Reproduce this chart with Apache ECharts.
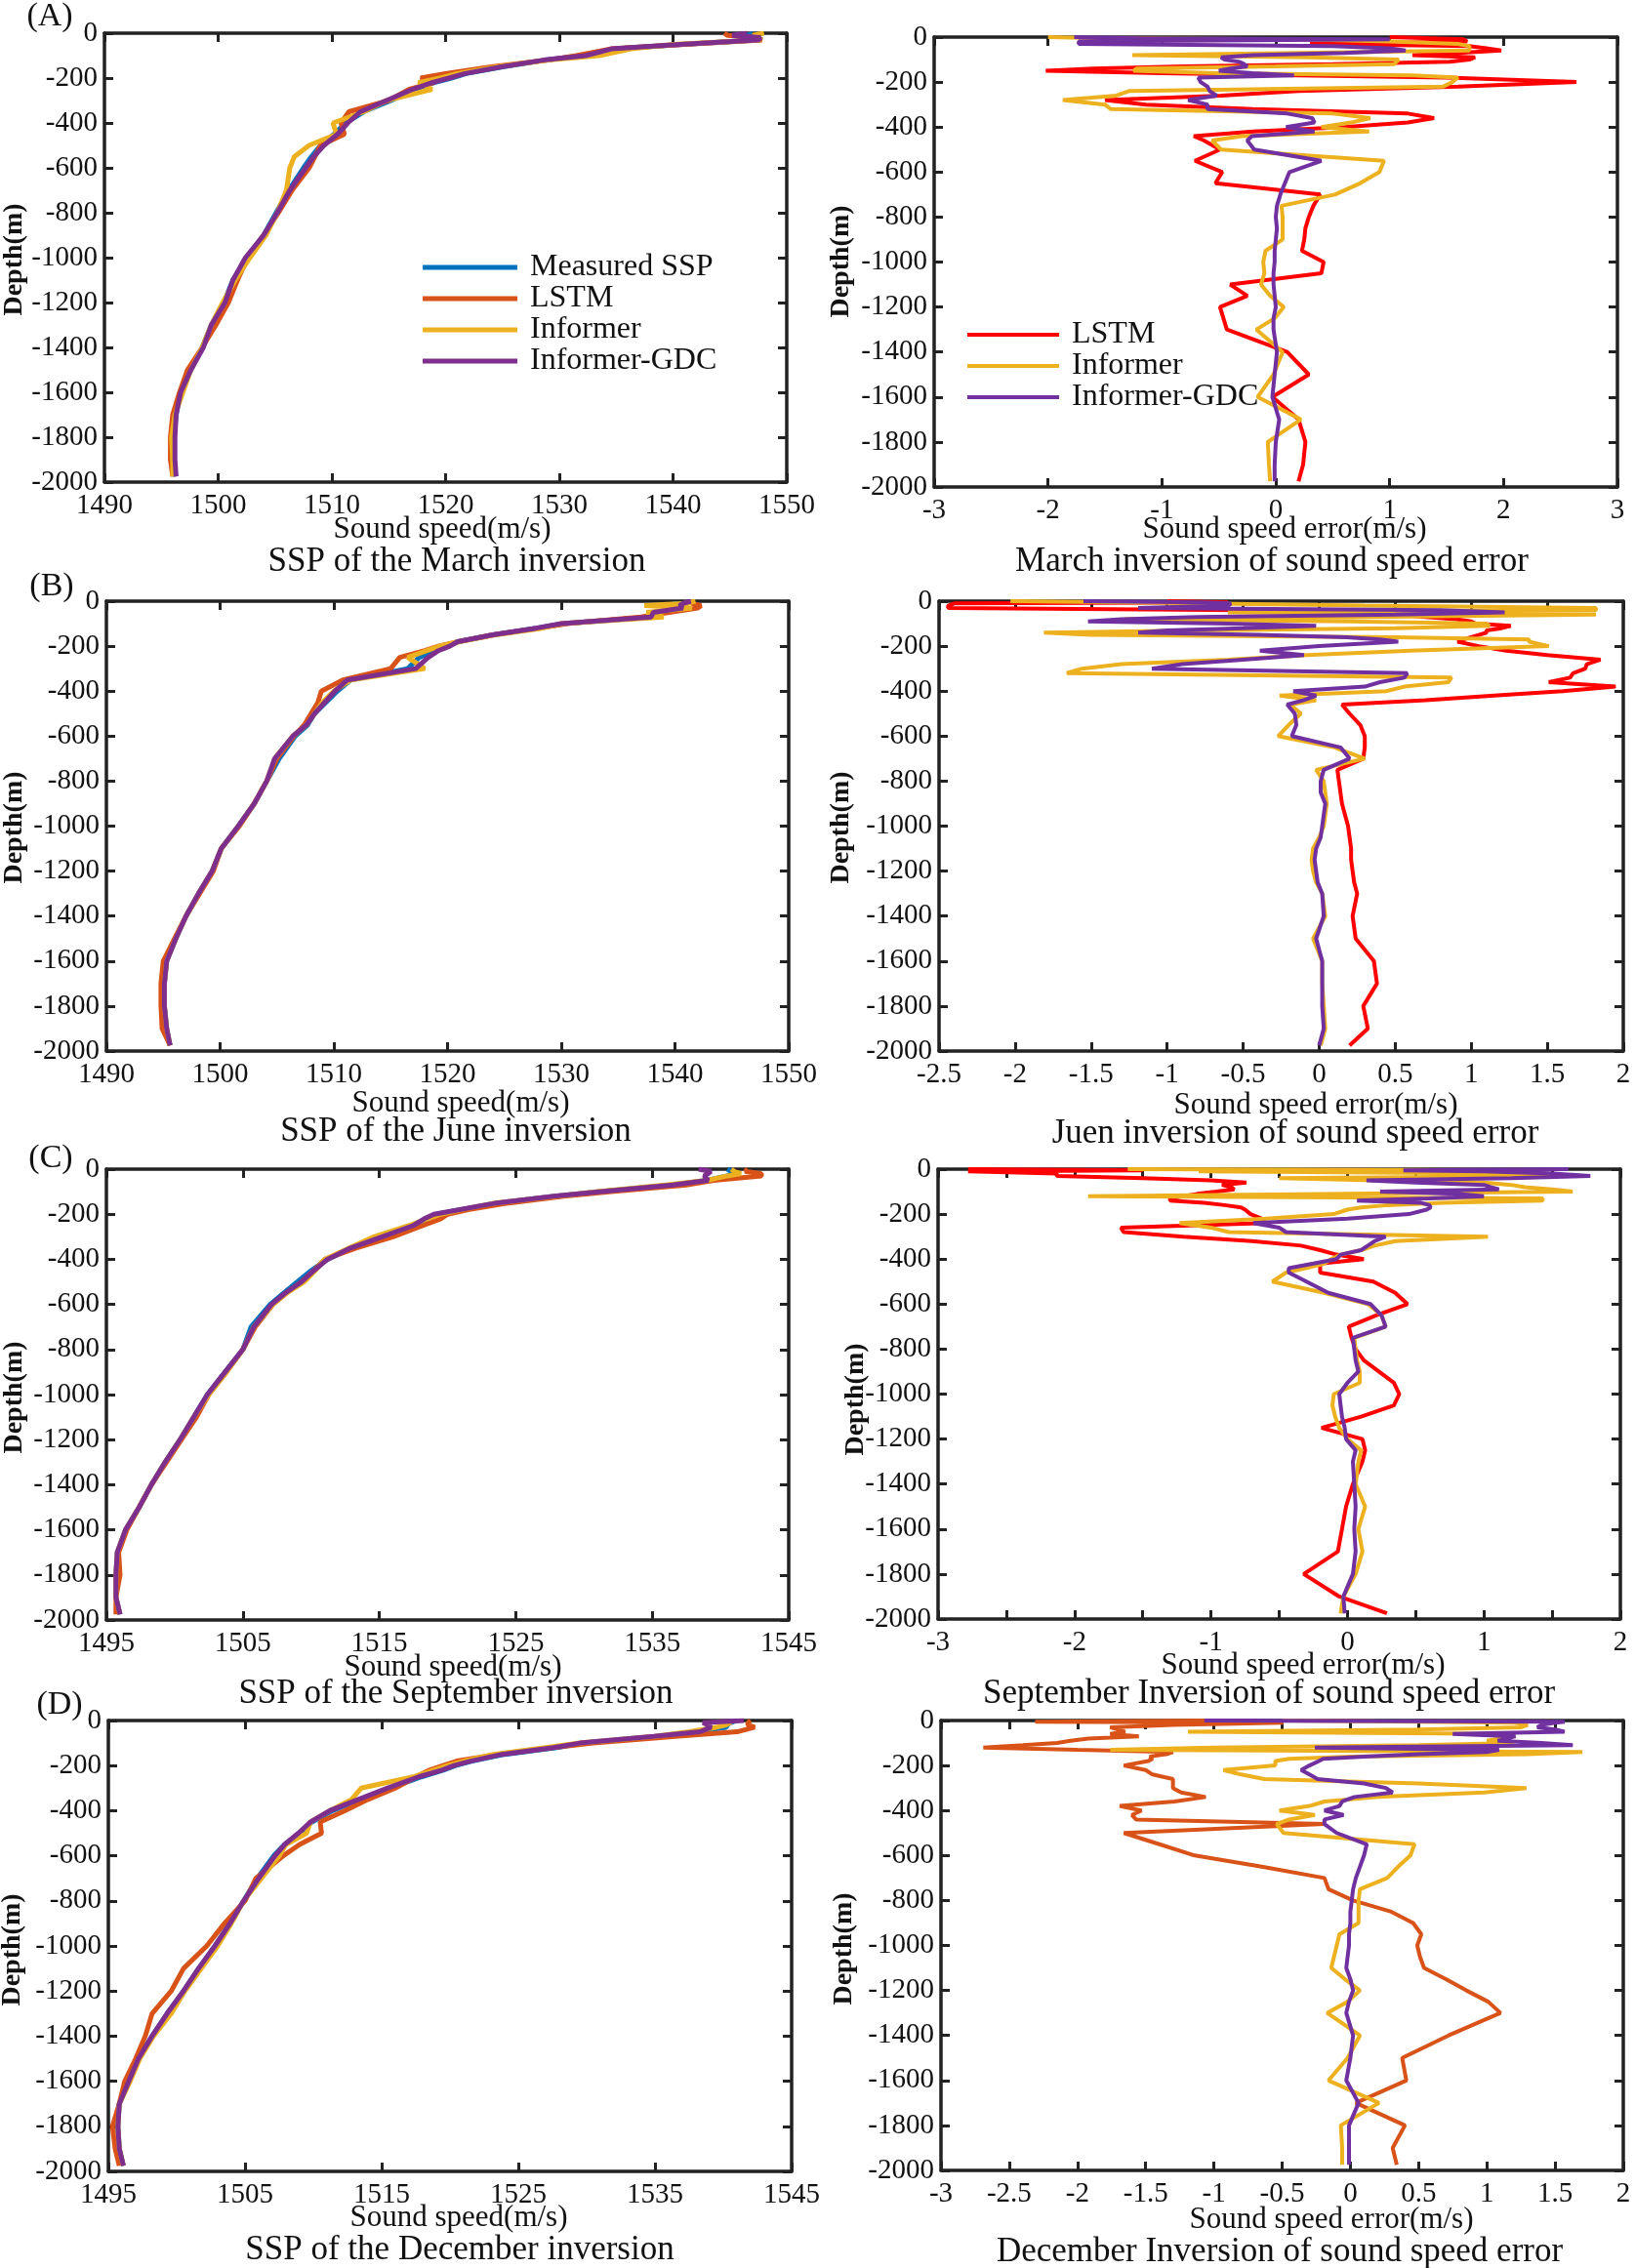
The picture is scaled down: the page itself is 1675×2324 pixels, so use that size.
<!DOCTYPE html>
<html>
<head>
<meta charset="utf-8">
<script src="https://cdn.jsdelivr.net/npm/echarts@6/dist/echarts.min.js"></script>
<style>
html,body{margin:0;padding:0;background:#fff;}
#chart{width:1675px;height:2324px;}
</style>
</head>
<body>
<div id="chart"></div>
<script>
// ---------- depth levels (m, positive down) ----------
const depthSSP = [0,10,20,30,50,70,100,120,150,180,200,220,250,300,350,400,450,500,550,600,700,800,900,1000,1100,1200,1300,1400,1500,1600,1700,1800,1900,1975];
const depthErr = [0,5,10,20,30,40,50,60,70,80,90,100,110,120,130,140,150,160,170,180,200,220,240,260,280,300,320,340,360,380,400,420,440,460,500,550,600,650,700,750,800,850,900,950,1000,1050,1100,1150,1200,1250,1300,1400,1500,1600,1700,1800,1900,1975];

// ---------- March SSP (m/s) ----------
const marMeasured = [1547.0,1546.5,1547.5,1547.2,1540.8,1535.0,1532.0,1528.8,1525.0,1521.8,1520.5,1519.0,1517.3,1515.2,1512.8,1511.2,1510.2,1509.0,1508.2,1507.5,1506.2,1505.1,1504.0,1502.5,1501.3,1500.5,1499.4,1498.6,1497.6,1496.7,1496.3,1496.1,1496.1,1496.2];
const marLSTM = [1544.5,1544.8,1547.5,1547.8,1541.0,1534.5,1531.5,1529.0,1524.0,1520.0,1517.8,1519.0,1516.8,1515.0,1511.5,1510.8,1511.1,1509.0,1508.5,1508.0,1506.5,1505.3,1504.0,1502.6,1501.7,1500.9,1499.8,1498.6,1497.3,1496.6,1496.0,1495.8,1495.8,1496.0];
const marInformer = [1548.0,1547.0,1547.6,1547.6,1540.0,1536.3,1533.5,1529.0,1524.5,1521.0,1519.5,1517.6,1518.8,1514.8,1512.8,1510.1,1510.4,1508.0,1506.7,1506.3,1506.0,1505.2,1504.2,1502.8,1501.5,1500.4,1499.4,1498.6,1497.6,1496.9,1496.2,1495.9,1496.0,1496.0];
const marGDC = [1546.5,1545.2,1547.7,1547.5,1540.6,1534.6,1532.3,1528.6,1524.9,1521.7,1520.3,1518.8,1517.1,1514.8,1512.5,1511.4,1510.5,1509.3,1508.4,1507.7,1506.3,1505.2,1504.0,1502.4,1501.3,1500.6,1499.4,1498.7,1497.6,1496.7,1496.3,1496.2,1496.2,1496.3];

// ---------- June SSP ----------
const junMeasured = [1540.0,1540.0,1540.1,1540.5,1538.5,1538.0,1530.2,1527.8,1524.0,1520.9,1520.0,1519.0,1517.5,1516.5,1511.5,1510.3,1509.3,1508.3,1507.7,1506.6,1505.2,1504.1,1503.0,1501.6,1500.1,1499.3,1498.1,1497.0,1496.1,1495.3,1495.1,1495.1,1495.3,1495.6];
const junLSTM = [1541.3,1541.5,1542.3,1542.0,1539.5,1537.0,1530.5,1528.0,1524.0,1521.0,1519.2,1518.0,1515.8,1515.0,1510.8,1508.9,1508.6,1508.0,1507.4,1506.5,1505.0,1504.1,1503.0,1501.7,1500.1,1499.4,1498.2,1497.0,1496.0,1495.0,1494.8,1494.8,1494.9,1495.6];
const junInformer = [1541.8,1541.0,1537.3,1541.5,1537.5,1539.0,1530.0,1528.3,1524.2,1521.0,1519.3,1518.2,1516.5,1518.0,1511.5,1510.0,1509.0,1508.3,1507.6,1506.4,1504.8,1504.1,1503.0,1501.6,1500.1,1499.3,1498.1,1497.0,1496.1,1495.3,1495.1,1495.1,1495.3,1495.6];
const junGDC = [1541.4,1540.7,1540.4,1540.7,1538.1,1537.9,1530.0,1527.8,1524.0,1520.9,1520.2,1519.2,1518.3,1517.2,1511.2,1510.1,1509.2,1508.3,1507.6,1506.4,1504.8,1504.1,1503.0,1501.6,1500.1,1499.3,1498.1,1497.0,1496.1,1495.3,1495.1,1495.1,1495.3,1495.6];

// ---------- September SSP ----------
const sepMeasured = [1540.5,1540.8,1541.0,1540.5,1539.0,1536.4,1531.2,1527.9,1523.7,1521.0,1519.2,1518.5,1517.8,1515.3,1513.0,1511.2,1510.0,1509.0,1508.0,1507.0,1505.6,1505.0,1503.7,1502.4,1501.4,1500.4,1499.3,1498.3,1497.4,1496.4,1495.8,1495.7,1495.7,1496.0];
const sepLSTM = [1542.0,1541.8,1543.0,1543.0,1539.5,1537.5,1532.0,1528.5,1524.5,1521.5,1520.0,1519.5,1518.2,1516.0,1513.3,1511.0,1510.2,1509.3,1508.2,1507.2,1505.9,1505.0,1503.8,1502.5,1501.6,1500.5,1499.4,1498.3,1497.4,1496.5,1495.9,1496.0,1495.7,1495.7];
const sepInformer = [1540.8,1541.0,1541.5,1540.5,1539.0,1536.0,1531.0,1528.0,1523.5,1521.0,1519.5,1518.5,1517.2,1514.6,1512.8,1511.0,1510.3,1509.5,1508.2,1507.2,1505.8,1505.0,1503.8,1502.5,1501.4,1500.4,1499.3,1498.3,1497.4,1496.4,1495.8,1495.7,1495.7,1496.0];
const sepGDC = [1538.4,1539.3,1539.1,1538.8,1539.1,1536.5,1531.3,1527.8,1523.6,1520.9,1519.0,1518.3,1517.5,1515.2,1512.9,1511.2,1510.2,1509.3,1508.1,1507.1,1505.8,1505.0,1503.7,1502.4,1501.4,1500.4,1499.3,1498.3,1497.4,1496.4,1495.8,1495.7,1495.7,1496.0];

// ---------- December SSP ----------
const decMeasured = [1541.0,1540.5,1540.3,1540.2,1538.0,1535.2,1529.8,1527.8,1524.0,1521.6,1520.4,1519.5,1517.9,1515.6,1513.4,1511.4,1509.9,1509.0,1507.9,1507.1,1505.9,1504.9,1503.9,1502.8,1501.6,1500.5,1499.3,1498.2,1497.2,1496.5,1495.8,1495.7,1495.8,1496.1];
const decLSTM = [1542.0,1541.8,1541.8,1542.3,1541.0,1536.5,1530.5,1527.5,1523.5,1520.5,1519.5,1518.5,1517.5,1516.0,1514.0,1512.3,1510.5,1510.6,1509.0,1507.8,1505.8,1505.0,1503.5,1502.2,1500.5,1499.6,1498.2,1497.7,1497.0,1496.2,1495.8,1495.3,1495.5,1495.8];
const decInformer = [1540.5,1540.5,1540.2,1539.5,1537.5,1535.0,1529.5,1527.0,1523.2,1521.0,1519.8,1518.8,1517.3,1513.5,1512.8,1511.2,1509.8,1509.5,1508.0,1507.5,1506.2,1504.9,1504.0,1503.0,1501.8,1500.6,1499.6,1498.3,1497.3,1496.6,1495.8,1495.7,1495.8,1496.1];
const decGDC = [1541.5,1538.5,1538.9,1539.1,1538.3,1534.9,1529.5,1527.6,1523.8,1521.5,1520.3,1519.4,1517.7,1515.4,1513.3,1511.2,1509.8,1508.9,1507.9,1507.2,1506.0,1504.9,1503.9,1502.8,1501.6,1500.5,1499.3,1498.2,1497.2,1496.5,1495.8,1495.7,1495.8,1496.1];

// ---------- March error (m/s) ----------
const marErrLSTM = [1.0,1.0,1.65,1.68,0.3,1.7,1.85,1.98,1.6,1.2,1.75,1.7,1.53,0.5,-0.8,-1.6,-2.02,-1.0,0.2,1.5,
  2.64,1.6,0.2,-0.48,-1.5,-1.14,-0.2,1.16,1.39,1.16,0.6,-0.2,-0.72,-0.63,
  -0.49,-0.71,-0.47,-0.53,0.39,0.33,0.29,0.26,0.25,0.23,0.42,0.40,-0.40,-0.25,-0.49,-0.46,-0.43,
  0.10,0.29,-0.03,0.2,0.26,0.24,0.2];
const marErrInformer = [-2.0,-1.5,0.2,1.0,1.6,1.7,1.7,1.7,0.2,-1.26,0.3,1.08,1.06,1.04,0.0,-1.22,-1.25,-0.5,1.2,1.6,
  1.55,1.47,-1.29,-1.4,-1.87,-1.5,-1.45,0.5,0.83,0.66,0.4,0.82,-0.3,-0.56,
  -0.48,0.95,0.91,0.74,0.52,0.05,0.06,0.06,0.06,-0.09,-0.11,-0.1,-0.13,-0.05,0.07,-0.01,-0.17,
  0.06,-0.02,-0.16,0.22,-0.07,-0.06,-0.05];
const marErrGDC = [-1.77,-1.2,1.0,-1.73,-1.73,0.5,1.0,1.14,0.6,-0.2,-0.48,-0.45,-0.32,-0.28,-0.25,-0.4,-0.5,-0.2,0.16,-0.68,
  -0.66,-0.6,-0.58,-0.52,-0.77,-0.6,-0.6,0.1,0.32,0.34,0.09,0.34,-0.21,-0.25,
  -0.19,0.4,0.12,0.08,0.04,0.01,0.0,0.01,0.0,-0.01,-0.01,-0.02,-0.02,-0.01,0.0,-0.02,-0.02,
  0.01,-0.01,-0.03,0.03,0.0,-0.01,-0.01];

// ---------- June error ----------
const junErrLSTM = [-1.0,-0.6,-2.4,-2.44,-2.44,-0.5,0.2,0.5,0.7,0.9,1.0,1.03,1.26,1.2,1.1,1.1,1.05,1.0,0.95,0.91,
  1.05,1.23,1.5,1.85,1.76,1.75,1.67,1.65,1.51,1.95,1.6,1.15,0.7,0.15,
  0.2,0.27,0.3,0.3,0.29,0.12,0.13,0.14,0.15,0.17,0.19,0.2,0.21,0.21,0.22,0.23,0.25,
  0.22,0.24,0.36,0.38,0.29,0.32,0.2];
const junErrInformer = [-2.03,-1.2,-0.8,0.3,1.82,1.82,-0.6,1.82,0.3,-1.28,0.2,1.1,1.12,0.5,-0.8,-1.81,-1.5,0.5,1.38,1.38,
  1.51,0.6,-0.08,-0.6,-1.3,-1.56,-1.66,0.87,0.85,0.56,0.44,-0.26,-0.02,-0.19,
  -0.12,-0.2,-0.27,0.1,0.3,-0.02,0.03,0.04,0.05,0.04,0.03,0.0,-0.04,-0.05,-0.04,-0.02,0.02,
  0.04,-0.04,0.02,0.02,0.03,0.04,0.01];
const junErrGDC = [-1.55,-0.78,-0.58,-0.6,-1.19,0.8,1.22,0.5,-0.8,-1.3,-1.52,-0.6,-0.02,-0.5,-1.0,-1.19,-0.4,0.18,0.4,0.52,
  0.0,-0.39,-0.1,-0.5,-0.9,-1.1,0.58,0.56,0.4,0.3,-0.17,-0.02,-0.1,-0.21,
  -0.16,-0.15,-0.18,0.14,0.2,0.03,0.01,0.01,0.04,0.03,0.02,0.01,-0.02,-0.03,-0.02,-0.01,0.02,
  0.03,-0.02,0.02,0.02,0.02,0.03,0.0];

// ---------- September error ----------
const sepErrLSTM = [-2.78,-1.5,-2.78,-2.13,-2.13,-1.5,-1.0,-0.74,-0.92,-0.85,-0.83,-0.96,-1.1,-1.2,-1.3,-1.3,-1.05,-0.9,-0.78,-0.75,
  -0.71,-0.63,-0.6,-1.66,-1.64,-1.2,-0.7,-0.34,-0.2,-0.08,0.12,-0.2,-0.2,-0.2,
  0.19,0.35,0.44,0.21,0.01,0.03,0.06,0.12,0.23,0.34,0.38,0.34,0.1,-0.19,0.11,0.13,0.11,
  0.04,-0.01,-0.04,-0.07,-0.32,-0.06,0.29];
const sepErrInformer = [-1.61,1.39,-1.09,1.2,1.6,-0.5,0.2,1.0,1.2,1.3,1.5,1.65,0.0,-1.9,1.43,1.43,0.7,0.3,0.1,0.0,
  -0.1,-0.6,-1.23,-1.0,-0.87,1.03,0.35,0.2,0.1,-0.05,-0.12,-0.17,-0.3,-0.45,
  -0.55,-0.17,0.15,0.25,0.28,0.05,0.06,0.07,0.09,0.09,-0.1,-0.11,-0.09,-0.06,0.0,0.1,0.08,
  0.06,0.13,0.08,0.11,0.06,-0.03,-0.05];
const sepErrGDC = [1.62,0.41,1.0,1.5,1.78,1.2,0.14,0.5,1.0,1.05,1.11,0.24,0.8,1.0,0.6,0.07,0.54,0.6,0.61,0.58,
  0.45,0.0,-0.69,-0.5,-0.45,0.28,0.2,0.15,0.1,-0.05,-0.08,-0.25,-0.43,-0.43,
  -0.3,-0.14,0.17,0.25,0.28,0.04,0.05,0.06,0.08,0.0,-0.06,-0.05,-0.04,-0.02,-0.01,0.06,0.04,
  0.05,0.06,0.05,0.06,0.04,-0.03,-0.02];

// ---------- December error ----------
const decErrLSTM = [-1.0,-2.31,-0.49,-1.3,-1.76,-1.7,-1.65,-1.76,-1.55,-1.92,-2.05,-2.15,-2.4,-2.69,-2.0,-1.3,-1.35,-1.47,-1.45,-1.48,
  -1.66,-1.5,-1.45,-1.3,-1.3,-1.3,-1.24,-1.06,-1.29,-1.69,-1.53,-1.6,-1.57,-0.19,
  -1.66,-1.4,-1.14,-0.65,-0.19,-0.16,0.02,0.3,0.46,0.52,0.49,0.51,0.54,0.7,0.85,1.01,1.1,
  0.72,0.38,0.41,0.04,0.4,0.31,0.34];
const decErrInformer = [-0.5,0.5,1.2,1.3,1.25,0.5,-1.19,1.18,1.2,1.1,1.0,1.2,0.5,-1.0,-1.76,1.7,1.3,0.0,-0.45,-0.55,
  -0.55,-0.93,-0.8,-0.63,0.5,1.29,0.98,0.2,-0.19,-0.3,-0.52,-0.26,-0.45,-0.54,
  -0.49,0.47,0.44,0.35,0.27,0.07,0.06,0.06,0.06,-0.08,-0.1,-0.12,-0.14,-0.04,0.07,-0.02,-0.17,
  0.07,-0.02,-0.16,0.21,-0.07,-0.06,-0.06];
const decErrGDC = [-1.07,1.57,1.5,1.4,1.37,1.5,1.57,0.75,1.21,1.15,1.08,1.4,1.63,-0.26,1.09,1.0,0.5,0.1,-0.2,-0.23,
  -0.3,-0.36,-0.3,-0.24,0.1,0.26,0.31,0.03,-0.06,-0.08,-0.19,-0.05,-0.19,-0.19,
  -0.1,0.12,0.1,0.07,0.04,0.02,0.01,0.0,0.0,-0.01,-0.01,-0.02,-0.03,0.0,0.02,-0.01,-0.03,
  0.02,0.0,-0.03,0.06,-0.01,-0.01,-0.01];

// ---------- tick values ----------
const sspTicksAB = [1490,1500,1510,1520,1530,1540,1550];
const sspTicksCD = [1495,1505,1515,1525,1535,1545];
const errTicksMar = [-3,-2,-1,0,1,2,3];
const errTicksJun = [-2.5,-2,-1.5,-1,-0.5,0,0.5,1,1.5,2];
const errTicksSep = [-3,-2.5,-2,-1.5,-1,-0.5,0,0.5,1,1.5,2];
const errLabelsSep = [-3,-2,-1,0,1,2];
const errTicksDec = [-3,-2.5,-2,-1.5,-1,-0.5,0,0.5,1,1.5,2];
const depthTicks = [0,-200,-400,-600,-800,-1000,-1200,-1400,-1600,-1800,-2000];

// ---------- texts ----------
const subtitles = ['SSP of the March inversion','March inversion of sound speed error','SSP of the June inversion','Juen inversion of sound speed error','SSP of the September inversion','September Inversion of sound speed error','SSP of the December inversion','December Inversion of sound speed error'];
const xTitles = ['Sound speed(m/s)','Sound speed error(m/s)','Sound speed(m/s)','Sound speed error(m/s)','Sound speed(m/s)','Sound speed error(m/s)','Sound speed(m/s)','Sound speed error(m/s)'];
const panelTags = ['(A)','(B)','(C)','(D)'];

// ---------- layout (pixels) ----------
const FONT = '"Liberation Serif","Times New Roman",serif';
const grids = [
  {left:107, top:34, width:699, height:460},
  {left:957, top:38, width:700, height:461},
  {left:109, top:616, width:699, height:461},
  {left:962, top:616, width:701, height:461},
  {left:109, top:1198, width:699, height:462},
  {left:961, top:1198, width:699, height:461},
  {left:111, top:1763, width:700, height:462},
  {left:964, top:1763, width:699, height:461}
];
const panelAxes = [
  {min:1490, max:1550, ticks:sspTicksAB, labels:sspTicksAB},
  {min:-3, max:3, ticks:errTicksMar, labels:errTicksMar},
  {min:1490, max:1550, ticks:sspTicksAB, labels:sspTicksAB},
  {min:-2.5, max:2, ticks:errTicksJun, labels:errTicksJun},
  {min:1495, max:1545, ticks:sspTicksCD, labels:sspTicksCD},
  {min:-3, max:2, ticks:errTicksSep, labels:errLabelsSep},
  {min:1495, max:1545, ticks:sspTicksCD, labels:sspTicksCD},
  {min:-3, max:2, ticks:errTicksDec, labels:errTicksDec}
];
const subPos = [[468,576],[1303,576],[467,1160],[1327,1162],[467,1736],[1300,1736],[471,2306],[1311,2308]];
const xTitlePos = [[453,543],[1316,543],[472,1131],[1348,1133],[464,1709],[1335,1707],[470,2273],[1364,2275]];
const yTitlePos = [[15,266],[862,268],[15,848],[862,848],[15,1432],[877,1434],[13,1998],[865,1997]];
const tagPos = [[51,17],[53,601],[52,1187],[61,1747]];

const C_MEAS = '#0072BD', C_LSTM = '#D95319', C_INF = '#EDB120', C_GDC = '#7E2F8E';
const C_RED = '#FF0000', C_PUR = '#7030A0';

function pts(vals, depths){ return vals.map((v,i)=>[v, -depths[i]]); }
const plain = v => String(v);

const xAxes = [], yAxes = [];
grids.forEach((g, i) => {
  const a = panelAxes[i];
  const common = {
    type:'value', gridIndex:i, min:a.min, max:a.max,
    splitLine:{show:false},
    axisLine:{show:true, onZero:false, lineStyle:{color:'#222', width:3.5}},
    axisTick:{show:true, inside:true, length:9, customValues:a.ticks, lineStyle:{color:'#222', width:3}}
  };
  xAxes.push(Object.assign({}, common, {position:'bottom',
    axisLabel:{show:true, customValues:a.labels, formatter:plain, margin:10, color:'#111', fontFamily:'Liberation Serif', fontSize:29}}));
  xAxes.push(Object.assign({}, common, {position:'top', axisLabel:{show:false}}));
  const ycommon = {
    type:'value', gridIndex:i, min:-2000, max:0, interval:200,
    splitLine:{show:false},
    axisLine:{show:true, onZero:false, lineStyle:{color:'#222', width:3.5}},
    axisTick:{show:true, inside:true, length:9, customValues:depthTicks, lineStyle:{color:'#222', width:3}}
  };
  yAxes.push(Object.assign({}, ycommon, {position:'left',
    axisLabel:{show:true, customValues:depthTicks, formatter:plain, margin:7, color:'#111', fontFamily:'Liberation Serif', fontSize:29}}));
  yAxes.push(Object.assign({}, ycommon, {position:'right', axisLabel:{show:false}}));
});

const series = [];
function addLine(name, grid, vals, depths, color, width){
  series.push({
    name:name, type:'line', xAxisIndex:grid*2, yAxisIndex:grid*2,
    data:pts(vals, depths), symbol:'none', showSymbol:false, smooth:false,
    lineStyle:{color:color, width:width}, itemStyle:{color:color},
    clip:true, animation:false
  });
}
const W_SSP = 5, W_ERR = 4;
// SSP panels
addLine('Measured SSP', 0, marMeasured, depthSSP, C_MEAS, W_SSP);
addLine('LSTM', 0, marLSTM, depthSSP, C_LSTM, W_SSP);
addLine('Informer', 0, marInformer, depthSSP, C_INF, W_SSP);
addLine('Informer-GDC', 0, marGDC, depthSSP, C_GDC, W_SSP);
addLine('Jun Measured', 2, junMeasured, depthSSP, C_MEAS, W_SSP);
addLine('Jun LSTM', 2, junLSTM, depthSSP, C_LSTM, W_SSP);
addLine('Jun Informer', 2, junInformer, depthSSP, C_INF, W_SSP);
addLine('Jun GDC', 2, junGDC, depthSSP, C_GDC, W_SSP);
addLine('Sep Measured', 4, sepMeasured, depthSSP, C_MEAS, W_SSP);
addLine('Sep LSTM', 4, sepLSTM, depthSSP, C_LSTM, W_SSP);
addLine('Sep Informer', 4, sepInformer, depthSSP, C_INF, W_SSP);
addLine('Sep GDC', 4, sepGDC, depthSSP, C_GDC, W_SSP);
addLine('Dec Measured', 6, decMeasured, depthSSP, C_MEAS, W_SSP);
addLine('Dec LSTM', 6, decLSTM, depthSSP, C_LSTM, W_SSP);
addLine('Dec Informer', 6, decInformer, depthSSP, C_INF, W_SSP);
addLine('Dec GDC', 6, decGDC, depthSSP, C_GDC, W_SSP);
// error panels
addLine('e-LSTM', 1, marErrLSTM, depthErr, C_RED, W_ERR);
addLine('e-Informer', 1, marErrInformer, depthErr, C_INF, W_ERR);
addLine('e-Informer-GDC', 1, marErrGDC, depthErr, C_PUR, W_ERR);
addLine('Jun err LSTM', 3, junErrLSTM, depthErr, C_RED, W_ERR);
addLine('Jun err Informer', 3, junErrInformer, depthErr, C_INF, W_ERR);
addLine('Jun err GDC', 3, junErrGDC, depthErr, C_PUR, W_ERR);
addLine('Sep err LSTM', 5, sepErrLSTM, depthErr, C_RED, W_ERR);
addLine('Sep err Informer', 5, sepErrInformer, depthErr, C_INF, W_ERR);
addLine('Sep err GDC', 5, sepErrGDC, depthErr, C_PUR, W_ERR);
addLine('Dec err LSTM', 7, decErrLSTM, depthErr, C_LSTM, W_ERR);
addLine('Dec err Informer', 7, decErrInformer, depthErr, C_INF, W_ERR);
addLine('Dec err GDC', 7, decErrGDC, depthErr, C_PUR, W_ERR);

const graphics = [];
subtitles.forEach((t,i)=>graphics.push({type:'text', x:subPos[i][0], y:subPos[i][1], silent:true,
  style:{text:t, fill:'#111', font:'35px '+FONT, textAlign:'center', textVerticalAlign:'middle'}}));
xTitles.forEach((t,i)=>graphics.push({type:'text', x:xTitlePos[i][0], y:xTitlePos[i][1], silent:true,
  style:{text:t, fill:'#111', font:'31px '+FONT, textAlign:'center', textVerticalAlign:'middle'}}));
yTitlePos.forEach((p)=>graphics.push({type:'text', x:p[0], y:p[1], rotation:Math.PI/2, silent:true,
  style:{text:'Depth(m)', fill:'#111', font:'bold 28px '+FONT, textAlign:'center', textVerticalAlign:'middle'}}));
panelTags.forEach((t,i)=>graphics.push({type:'text', x:tagPos[i][0], y:tagPos[i][1], silent:true,
  style:{text:t, fill:'#111', font:'34px '+FONT, textAlign:'center', textVerticalAlign:'middle'}}));

const legendText = {fontFamily:FONT, fontSize:32, color:'#111', lineHeight:28, padding:[0,0,0,8]};
const option = {
  backgroundColor:'#fff',
  animation:false,
  textStyle:{fontFamily:'Liberation Serif'},
  grid:grids.map(g=>Object.assign({containLabel:false}, g)),
  xAxis:xAxes,
  yAxis:yAxes,
  legend:[
    {left:428, top:253, orient:'vertical', icon:'rect', itemWidth:97, itemHeight:5, itemGap:0,
     data:['Measured SSP','LSTM','Informer','Informer-GDC'], textStyle:legendText, selectedMode:false},
    {left:986, top:322, orient:'vertical', icon:'rect', itemWidth:94, itemHeight:4, itemGap:0,
     data:['e-LSTM','e-Informer','e-Informer-GDC'], textStyle:legendText, selectedMode:false,
     formatter:n=>n.replace(/^e-/, '')}
  ],
  graphic:graphics,
  series:series
};
const chart = echarts.init(document.getElementById('chart'), null, {renderer:'canvas', width:1675, height:2324});
chart.setOption(option);
</script>
</body>
</html>
